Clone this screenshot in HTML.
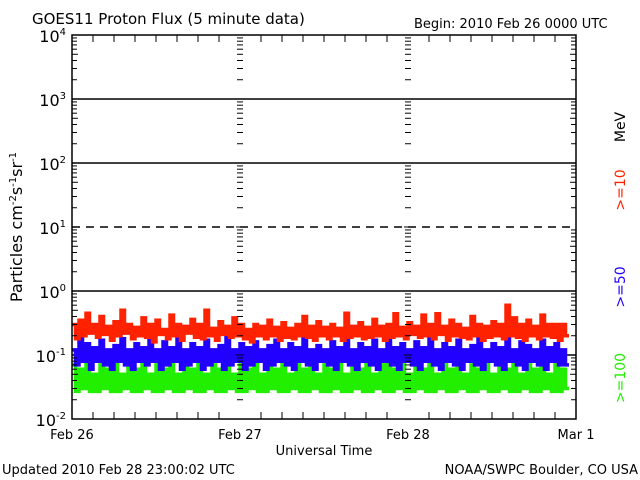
<!DOCTYPE html>
<html><head><meta charset="utf-8"><style>
body{margin:0;background:#fff;width:640px;height:480px;overflow:hidden}
svg{display:block;font-family:"DejaVu Sans","Liberation Sans",sans-serif}
</style></head><body>
<svg id="chart" width="640" height="480" viewBox="0 0 640 480" xmlns="http://www.w3.org/2000/svg">
<text x="32" y="24" font-size="15">GOES11 Proton Flux (5 minute data)</text>
<text x="414" y="28" font-size="13">Begin: 2010 Feb 26 0000 UTC</text>
<g id="grid"></g>
<g id="series"></g>
<rect x="72" y="35" width="504" height="384" fill="none" stroke="#000" stroke-width="1.5"/>
<g id="axes"></g>
<text x="324" y="455" font-size="13" text-anchor="middle">Universal Time</text>
<text transform="translate(22,227) rotate(-90)" font-size="16" text-anchor="middle">Particles cm<tspan dy="-6" font-size="10">-2</tspan><tspan dy="6">s</tspan><tspan dy="-6" font-size="10">-1</tspan><tspan dy="6">sr</tspan><tspan dy="-6" font-size="10">-1</tspan></text>
<text transform="translate(625,127) rotate(-90)" font-size="14" text-anchor="middle">MeV</text>
<text transform="translate(625,190) rotate(-90)" font-size="14" text-anchor="middle" fill="#ff2200">&gt;=10</text>
<text transform="translate(625,287) rotate(-90)" font-size="14" text-anchor="middle" fill="#2200ff">&gt;=50</text>
<text transform="translate(625,378) rotate(-90)" font-size="14" text-anchor="middle" fill="#22ee00">&gt;=100</text>
<text x="2" y="474" font-size="13">Updated 2010 Feb 28 23:00:02 UTC</text>
<text x="638" y="474" font-size="13" text-anchor="end">NOAA/SWPC Boulder, CO USA</text>
</svg>
<script>
const dayLabels = ["Feb 26","Feb 27","Feb 28","Mar 1"];
const yExps = [4,3,2,1,0,-1,-2];
const red = [0.3,0.18,0.35,0.2,0.45,0.22,0.3,0.19,0.4,0.21,0.28,0.17,0.33,0.2,0.5,0.22,0.3,0.18,0.27,0.2,
0.38,0.19,0.3,0.16,0.35,0.21,0.25,0.18,0.42,0.2,0.3,0.17,0.28,0.22,0.36,0.19,0.3,0.18,0.5,0.2,
0.26,0.17,0.33,0.21,0.28,0.19,0.38,0.2,0.3,0.18,0.25,0.16,0.3,0.2,0.28,0.18,0.35,0.2,0.27,0.17,
0.32,0.19,0.26,0.18,0.3,0.2,0.4,0.19,0.28,0.17,0.33,0.2,0.27,0.18,0.3,0.2,0.26,0.17,0.45,0.19,
0.28,0.2,0.32,0.18,0.27,0.19,0.36,0.2,0.28,0.17,0.3,0.19,0.44,0.2,0.27,0.18,0.32,0.21,0.28,0.19,
0.42,0.2,0.3,0.18,0.44,0.21,0.28,0.17,0.35,0.2,0.3,0.19,0.26,0.18,0.4,0.2,0.3,0.17,0.28,0.19,
0.33,0.2,0.3,0.18,0.6,0.2,0.38,0.19,0.3,0.17,0.35,0.2,0.28,0.18,0.42,0.2,0.3,0.19,0.3,0.17,0.3,0.2];
const blue = [0.12,0.07,0.2,0.08,0.15,0.06,0.13,0.08,0.17,0.07,0.12,0.06,0.14,0.08,0.18,0.07,0.12,0.06,0.15,0.08,
0.13,0.07,0.2,0.08,0.12,0.06,0.16,0.07,0.13,0.08,0.18,0.06,0.12,0.07,0.15,0.08,0.13,0.06,0.17,0.07,
0.12,0.08,0.14,0.06,0.19,0.07,0.12,0.08,0.15,0.06,0.13,0.07,0.16,0.08,0.12,0.06,0.14,0.07,0.17,0.08,
0.12,0.07,0.15,0.06,0.13,0.08,0.2,0.07,0.12,0.06,0.14,0.08,0.12,0.07,0.16,0.06,0.13,0.08,0.18,0.07,
0.12,0.06,0.15,0.08,0.13,0.07,0.17,0.06,0.12,0.08,0.19,0.07,0.13,0.06,0.15,0.08,0.12,0.07,0.16,0.06,
0.13,0.08,0.2,0.07,0.12,0.06,0.15,0.08,0.13,0.07,0.17,0.06,0.12,0.08,0.14,0.07,0.18,0.06,0.12,0.08,
0.15,0.07,0.13,0.06,0.19,0.08,0.12,0.07,0.16,0.06,0.14,0.08,0.12,0.07,0.17,0.06,0.13,0.08,0.15,0.07,0.12,0.07];
const green = [0.07,0.027,0.06,0.03,0.08,0.027,0.05,0.027,0.07,0.03,0.06,0.027,0.09,0.027,0.05,0.03,0.07,0.027,0.06,0.027,
0.08,0.03,0.05,0.027,0.07,0.027,0.06,0.03,0.09,0.027,0.05,0.027,0.07,0.03,0.06,0.027,0.08,0.027,0.05,0.03,
0.07,0.027,0.06,0.027,0.09,0.03,0.05,0.027,0.07,0.027,0.06,0.03,0.08,0.027,0.05,0.027,0.07,0.03,0.06,0.027,
0.09,0.027,0.05,0.03,0.07,0.027,0.06,0.027,0.08,0.03,0.05,0.027,0.07,0.027,0.06,0.03,0.09,0.027,0.05,0.027,
0.07,0.03,0.06,0.027,0.08,0.027,0.05,0.03,0.07,0.027,0.1,0.027,0.06,0.03,0.08,0.027,0.05,0.027,0.07,0.03,
0.06,0.027,0.09,0.027,0.05,0.03,0.07,0.027,0.06,0.027,0.08,0.03,0.05,0.027,0.07,0.027,0.06,0.03,0.09,0.027,
0.05,0.027,0.07,0.03,0.06,0.027,0.08,0.027,0.05,0.03,0.07,0.027,0.06,0.027,0.09,0.03,0.05,0.027,0.07,0.027,0.06,0.03];
const X0=72, X1=576, Y0=35, Y1=419, HOURS=72, STEP=0.5;
const xs = h => X0 + (h/HOURS)*(X1-X0);
const ys = v => Y0 + (4 - Math.log10(v))*((Y1-Y0)/6);
const NS="http://www.w3.org/2000/svg";
function mk(tag, attrs, parent){const e=document.createElementNS(NS,tag);for(const k in attrs)e.setAttribute(k,attrs[k]);parent.appendChild(e);return e;}
const grid=document.getElementById('grid'), axes=document.getElementById('axes'), ser=document.getElementById('series');
[[green,'#22ee00','green-ge100'],[blue,'#2200ff','blue-ge50'],[red,'#ff2200','red-ge10']].forEach(([arr,c,n])=>{
  let d='';
  arr.forEach((v,i)=>{
    const y=ys(v).toFixed(1);
    d+=(i?'V'+y:'M'+xs(0).toFixed(1)+','+y)+'H'+xs((i+1)*STEP).toFixed(1);
  });
  const p=mk('path',{d:d,fill:'none',stroke:c,'stroke-width':3.5,'stroke-linejoin':'miter'},ser);
  
  
});
yExps.forEach((p,i)=>{
  const y=ys(Math.pow(10,p));
  if(p<4&&p>-2){const l=mk('line',{x1:X0,x2:X1,y1:y,y2:y,stroke:'#000','stroke-width':1.5,'stroke-dasharray':p===1?'8,6':'none'},grid);
  
  }
  const t=mk('text',{x:X0-6,y:y+7,'font-size':16,'text-anchor':'end'},axes);
  
  
  t.innerHTML='10<tspan dy="-7" font-size="10">'+(p<0?'-'+(-p):p)+'</tspan>';
  if(p>-2){for(let m=2;m<=9;m++){const yy=ys(Math.pow(10,p-1)*m);const len=m===5?6:5;
    [X0,xs(24),xs(48)].forEach((xx,j)=>{mk('line',{x1:j?xx-3:xx,x2:j?xx+3:xx+len,y1:yy,y2:yy,stroke:'#000','stroke-width':1},axes);});
    mk('line',{x1:X1-len,x2:X1,y1:yy,y2:yy,stroke:'#000','stroke-width':1},axes);}}
  if(p<4)[xs(24),xs(48)].forEach(xx=>mk('line',{x1:xx-4,x2:xx+4,y1:y,y2:y,stroke:'#000'},axes));
});
dayLabels.forEach((d,i)=>{
  const x=xs(i*24);
  const t=mk('text',{x:x,y:439,'font-size':13,'text-anchor':'middle'},axes);
  
  
  t.textContent=d;
});
for(let h=3;h<HOURS;h+=3){const x=xs(h);const L=h%24===0?0:7;
  if(L){mk('line',{x1:x,x2:x,y1:Y1,y2:Y1-L,stroke:'#000'},axes);mk('line',{x1:x,x2:x,y1:Y0,y2:Y0+L,stroke:'#000'},axes);}}
</script>
</body></html>
